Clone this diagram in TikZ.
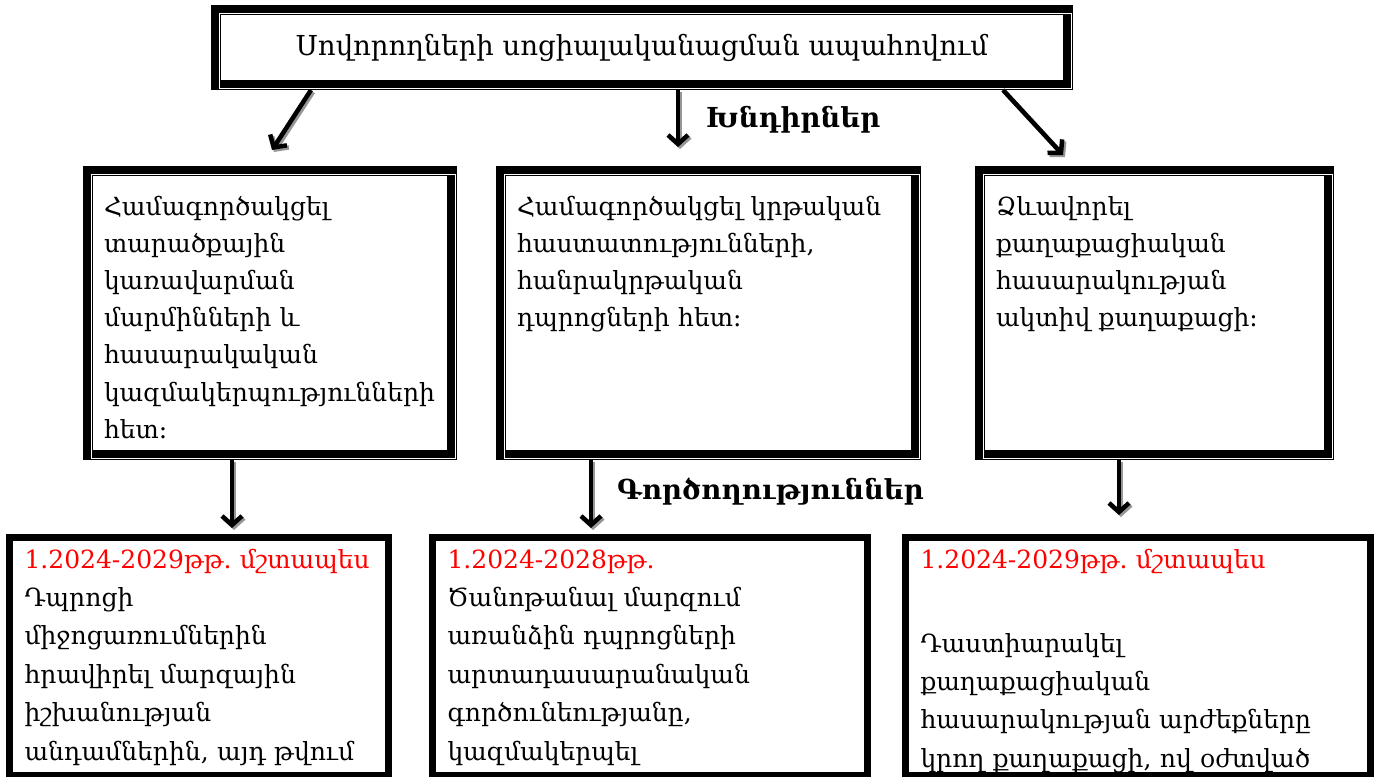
\documentclass[tikz,border=0pt]{standalone}
\usepackage{fontspec}
\setmainfont{DejaVu Serif}
\usetikzlibrary{arrows.meta, positioning}
\definecolor{datered}{RGB}{255,0,0}
\definecolor{shadegray}{RGB}{150,150,150}
\frenchspacing

\begin{document}
\begin{tikzpicture}[x=1pt, y=-1pt]
	\useasboundingbox (0,0) rectangle (1375,776);
	% Setup the styles for the boxes and arrows
	\tikzset{goalbox/.style={draw, line width=10pt,
								inner xsep=16pt, inner ysep=5pt,
								anchor=north west, align=left,
								text width=#1,
								font=\fontsize{25}{37.2}\selectfont,
								text height=39pt, text depth=235pt},
			 stepbox/.style={draw, line width=7pt,
								inner xsep=15pt, inner ysep=5pt,
								anchor=north west, align=left,
								text width=#1,
								font=\fontsize{25}{38.4}\selectfont,
								text height=25.5pt, text depth=202pt},
			 heading/.style={anchor=base west, inner sep=0pt,
								font=\bfseries\fontsize{27.5}{32}\selectfont},
			 arr/.style={line width=4.5pt,
								-{Straight Barb[length=9pt, width=20pt]}},
			 whiteline/.style={draw=white, line width=0.8pt}}
	% Draw the boxes
	\node[draw, line width=10pt, minimum width=852pt, minimum height=75pt,
		  inner sep=0pt, font=\fontsize{27.5}{32}\selectfont]
		at (642,47.5) (top) {Սովորողների սոցիալականացման ապահովում};
	\node[goalbox=332pt] at (83,166)  (goal1) {Համագործակցել\\ տարածքային\\ կառավարման\\ մարմինների և\\ հասարակական\\ կազմակերպությունների\\ հետ։};
	\node[goalbox=383pt] at (496,166) (goal2) {Համագործակցել կրթական\\ հաստատությունների,\\ հանրակրթական\\ դպրոցների հետ։};
	\node[goalbox=317pt] at (975,166) (goal3) {Ձևավորել\\ քաղաքացիական\\ հասարակության\\ ակտիվ քաղաքացի։};
	\node[stepbox=349pt] at (6,534)   (step1) {\textcolor{datered}{1.2024-2029թթ. մշտապես}\\ Դպրոցի\\ միջոցառումներին\\ հրավիրել մարզային\\ իշխանության\\ անդամներին, այդ թվում};
	\node[stepbox=405pt] at (429,534) (step2) {\textcolor{datered}{1.2024-2028թթ.}\\ Ծանոթանալ մարզում\\ առանձին դպրոցների\\ արտադասարանական\\ գործունեությանը,\\ կազմակերպել};
	\node[stepbox=435pt] at (902,534) (step3) {\textcolor{datered}{1.2024-2029թթ. մշտապես}\\[45.6pt] Դաստիարակել\\ քաղաքացիական\\ հասարակության արժեքները\\ կրող քաղաքացի, ով օժտված};
	\foreach \n in {top, goal1, goal2, goal3}
		\draw[whiteline] ([shift={(8,8)}]\n.north west) rectangle ([shift={(-2,-2)}]\n.south east);
	% Headings
	\node[heading] at (706,127) (tasks) {Խնդիրներ};
	\node[heading] at (617,499) (acts) {Գործողություններ};
	% Free ends of the arrows
	\coordinate (a1) at (272,150);
	\coordinate (a2) at (678,147);
	\coordinate (a3) at (1063,155);
	\coordinate (b1) at (232,528);
	\coordinate (b2) at (591,528);
	\coordinate (b3) at (1119,515);
	% Connect the boxes with arrows, shadow first
	\foreach \c/\d in {shadegray/2pt, black/0pt}{
		\begin{scope}[arr, draw=\c, transform canvas={xshift=\d, yshift=-\d}]
			\draw ([xshift=100pt]top.south west) -- (a1);
			\draw (a2 |- top.south) -- (a2);
			\draw ([xshift=-70pt]top.south east) -- (a3);
			\draw (b1 |- goal1.south) -- (b1);
			\draw (b2 |- goal2.south) -- (b2);
			\draw (b3 |- goal3.south) -- (b3);
		\end{scope}
	}
\end{tikzpicture}
\end{document}
